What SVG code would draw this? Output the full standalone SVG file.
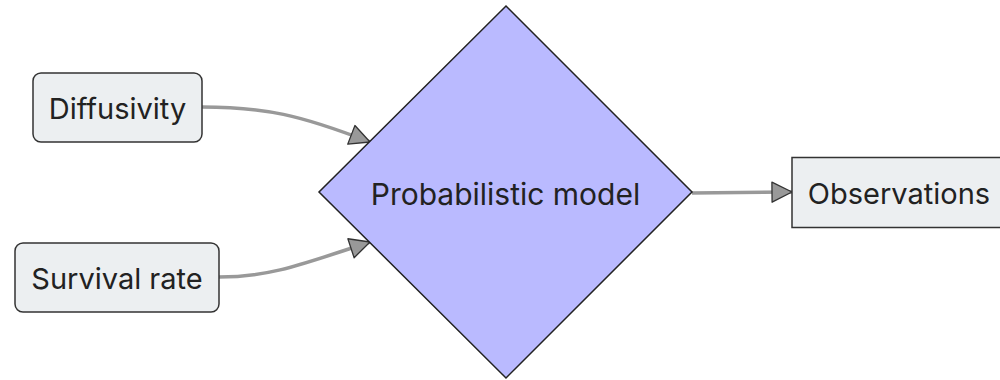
<svg xmlns="http://www.w3.org/2000/svg" width="1000" height="380" viewBox="0 0 1000 380">
<defs>
<style>
.box{fill:#eceff1;stroke:#333;stroke-width:1.5}
.dia{fill:#babaff;stroke:#222;stroke-width:1.5}
.lbl{font-family:Inter,"Noto Sans",sans-serif;font-size:29px;fill:#222;text-anchor:middle;dominant-baseline:central}
.big{font-size:30px}
.edge{fill:none;stroke:#999;stroke-width:3.5}
</style>
<marker id="arr" viewBox="0 0 22 22" refX="21" refY="11" markerWidth="22" markerHeight="22" markerUnits="userSpaceOnUse" orient="auto">
<path d="M1,1 L21,11 L1,21 Z" fill="#999" stroke="#333" stroke-width="1.3" stroke-linejoin="round"/>
</marker>
</defs>
<g id="edges">
<path class="edge" d="M202,107 C265,107 300,115 370,142" marker-end="url(#arr)"/>
<path class="edge" d="M219,277 C270,277 300,265 370,242" marker-end="url(#arr)"/>
<path class="edge" d="M692,193 L792,192" marker-end="url(#arr)"/>
</g>
<g id="diffusivity">
<rect class="box" x="33" y="73" width="169" height="69" rx="8"/>
<text class="lbl" x="117.5" y="108">Diffusivity</text>
</g>
<g id="survival">
<rect class="box" x="15" y="243" width="204" height="69" rx="8"/>
<text class="lbl" x="117" y="278">Survival rate</text>
</g>
<g id="model">
<polygon class="dia" points="506,6 692,192 506,378 319,192"/>
<text class="lbl big" x="505.5" y="194">Probabilistic model</text>
</g>
<g id="observations">
<rect class="box" x="792" y="157.5" width="220" height="70"/>
<text class="lbl" x="899" y="193">Observations</text>
</g>
</svg>
